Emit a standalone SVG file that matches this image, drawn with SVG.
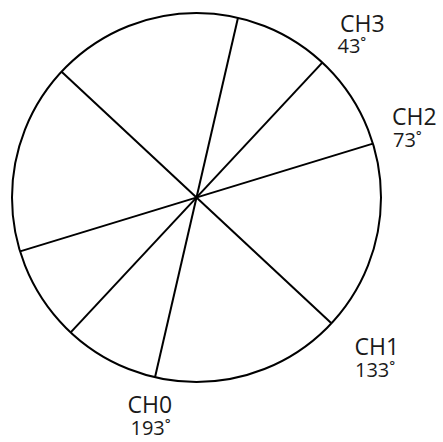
<svg xmlns="http://www.w3.org/2000/svg" width="443" height="442" viewBox="0 0 443 442">
  <style>
    .ring { fill: #ffffff; stroke: #000000; stroke-width: 2; }
    .spoke { stroke: #000000; stroke-width: 2; fill: none; }
    .ch { font-family: "Open Sans", "Liberation Sans", sans-serif; font-size: 23px; fill: #1a1a1a; }
    .deg { font-family: "Open Sans", "Liberation Sans", sans-serif; font-size: 20px; fill: #1a1a1a; }
  </style>
  <rect width="443" height="442" fill="#ffffff"/>
  <g id="wheel">
    <circle class="ring" cx="196.5" cy="197.5" r="184.5"/>
  </g>
  <g id="connectors">
    <line class="spoke" x1="155.0" y1="377.3" x2="238.0" y2="17.7"/>
    <line class="spoke" x1="331.4" y1="323.3" x2="61.6" y2="71.7"/>
    <line class="spoke" x1="372.9" y1="143.6" x2="20.1" y2="251.4"/>
    <line class="spoke" x1="322.3" y1="62.6" x2="70.7" y2="332.4"/>
  </g>
  <g id="ch3">
    <text class="ch" x="340" y="32.3">CH3</text>
    <text class="deg" x="337.5" y="53.3">43˚</text>
  </g>
  <g id="ch2">
    <text class="ch" x="392" y="125">CH2</text>
    <text class="deg" x="393" y="146.7">73˚</text>
  </g>
  <g id="ch1">
    <text class="ch" x="354.5" y="355">CH1</text>
    <text class="deg" x="355" y="377.3">133˚</text>
  </g>
  <g id="ch0">
    <text class="ch" x="127.5" y="413.3">CH0</text>
    <text class="deg" x="130.5" y="435">193˚</text>
  </g>
</svg>
